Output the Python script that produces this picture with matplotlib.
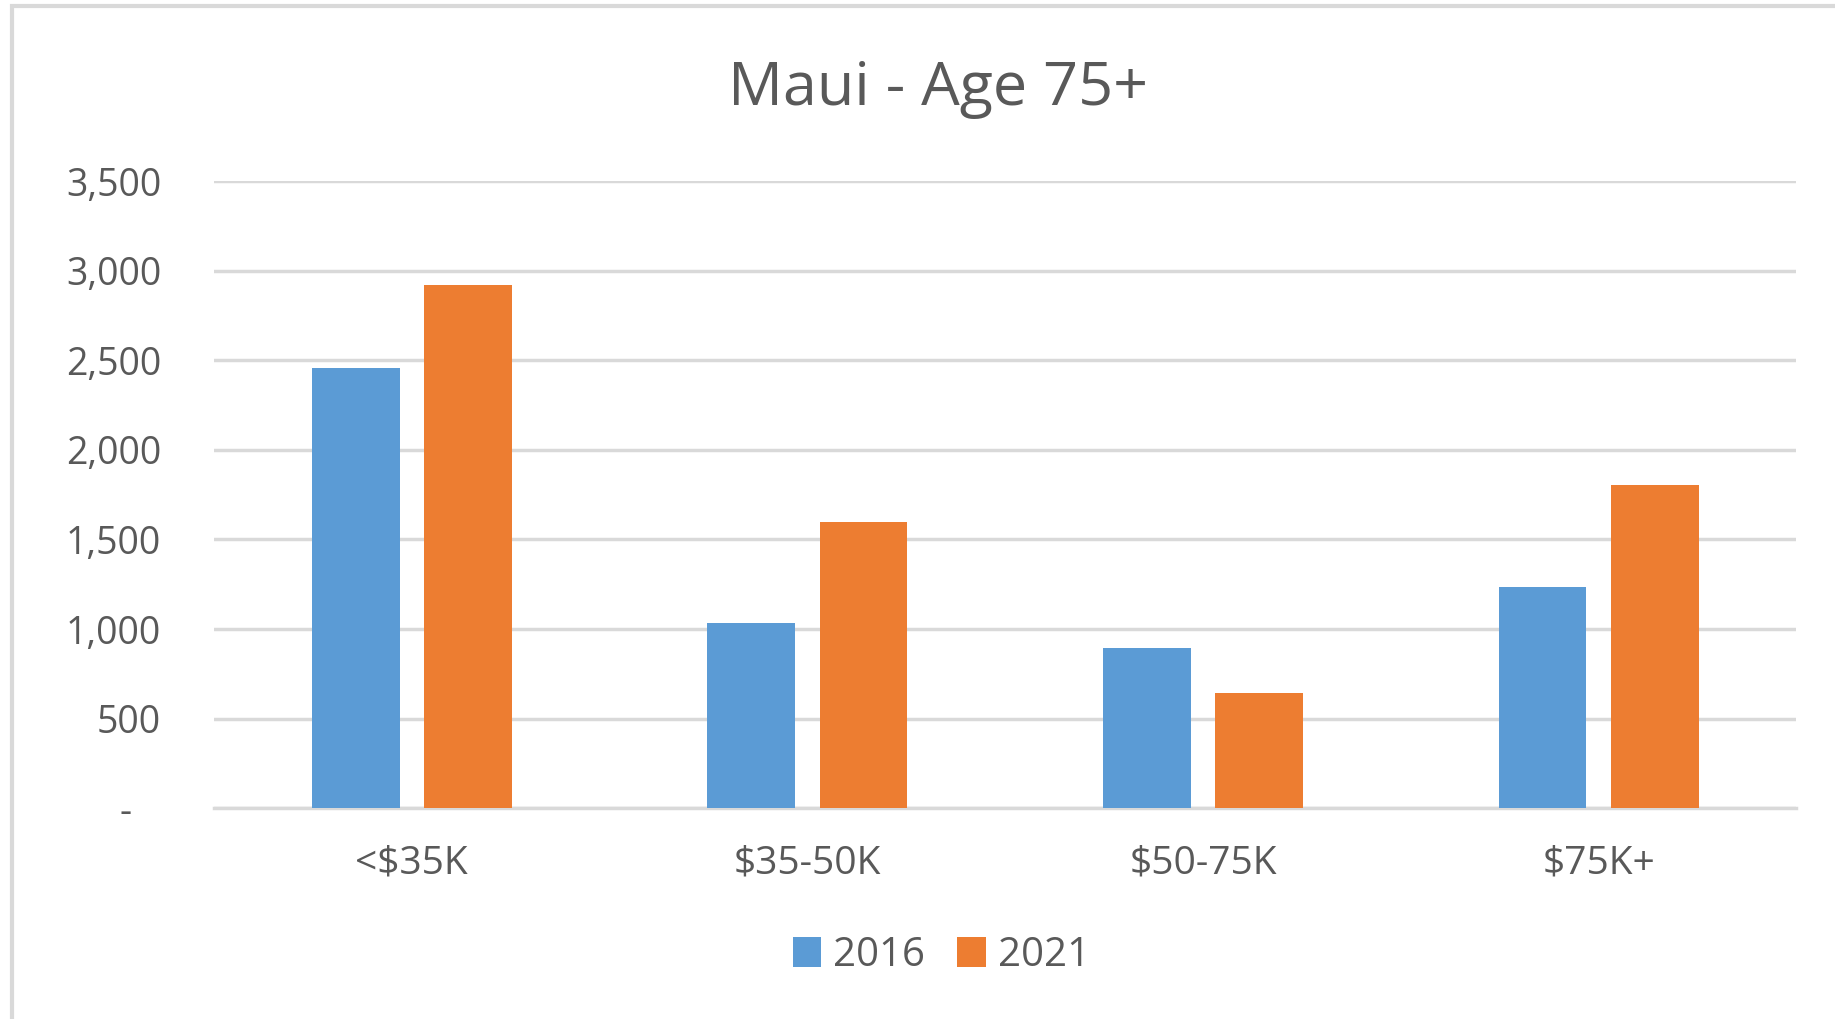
import numpy as np
import matplotlib
matplotlib.use('Agg')
import matplotlib.pyplot as plt
from matplotlib.patches import Rectangle

# ── 数据 ──────────────────────────────────────────────────────────────
categories = ['<$35K', '$35-50K', '$50-75K', '$75K+']
series_names = ['2016', '2021']
vals_2016 = [2460, 1035, 895, 1235]
vals_2021 = [2920, 1600, 640, 1805]
yticks = [0, 500, 1000, 1500, 2000, 2500, 3000, 3500]

C_BLUE = '#5B9BD5'
C_ORANGE = '#ED7D31'
C_GRID = '#D9D9D9'
C_TEXT = '#595959'

plt.rcParams['font.family'] = ['Open Sans', 'DejaVu Sans']

fig = plt.figure(figsize=(18.35, 10.19), dpi=100, facecolor='white')
ax = fig.add_axes([0.1166, 0.207, 0.8624, 0.615])

x = np.arange(len(categories))
bw = 0.222
off = 0.142
ax.bar(x - off, vals_2016, bw, color=C_BLUE, label=series_names[0], zorder=3)
ax.bar(x + off, vals_2021, bw, color=C_ORANGE, label=series_names[1], zorder=3)

ax.set_xlim(-0.5, len(categories) - 0.5)
ax.set_ylim(0, 3500)
ax.set_yticks(yticks)
ax.set_yticklabels(['-   '] + [f'{v:,}' for v in yticks[1:]])
ax.set_xticks(x)
ax.set_xticklabels(categories)

ax.yaxis.grid(True, color=C_GRID, linewidth=2.5, zorder=0)
ax.set_axisbelow(True)
for s in ['top', 'right', 'left']:
    ax.spines[s].set_visible(False)
ax.spines['bottom'].set_color(C_GRID)
ax.spines['bottom'].set_linewidth(2.5)
ax.tick_params(axis='y', length=0, labelsize=27, colors=C_TEXT, pad=38)
ax.tick_params(axis='x', length=0, labelsize=28, colors=C_TEXT, pad=26)

fig.text(0.511, 0.913, 'Maui - Age 75+', ha='center', va='center',
         fontsize=44, color=C_TEXT)

fig.legend(loc='center', bbox_to_anchor=(0.513, 0.062), ncol=2, frameon=False,
           fontsize=29, handlelength=0.7, handleheight=0.75,
           handletextpad=0.3, columnspacing=0.8, labelcolor=C_TEXT)

# 外框（左、上可见）
fig.patches.append(Rectangle((12 / 1835, -0.1), 1.2, 1 - 6 / 1019 + 0.1,
                             transform=fig.transFigure, fill=False,
                             edgecolor='#D9D9D9', linewidth=3))

plt.savefig('out.png', dpi=100, facecolor='white')
plt.close()
